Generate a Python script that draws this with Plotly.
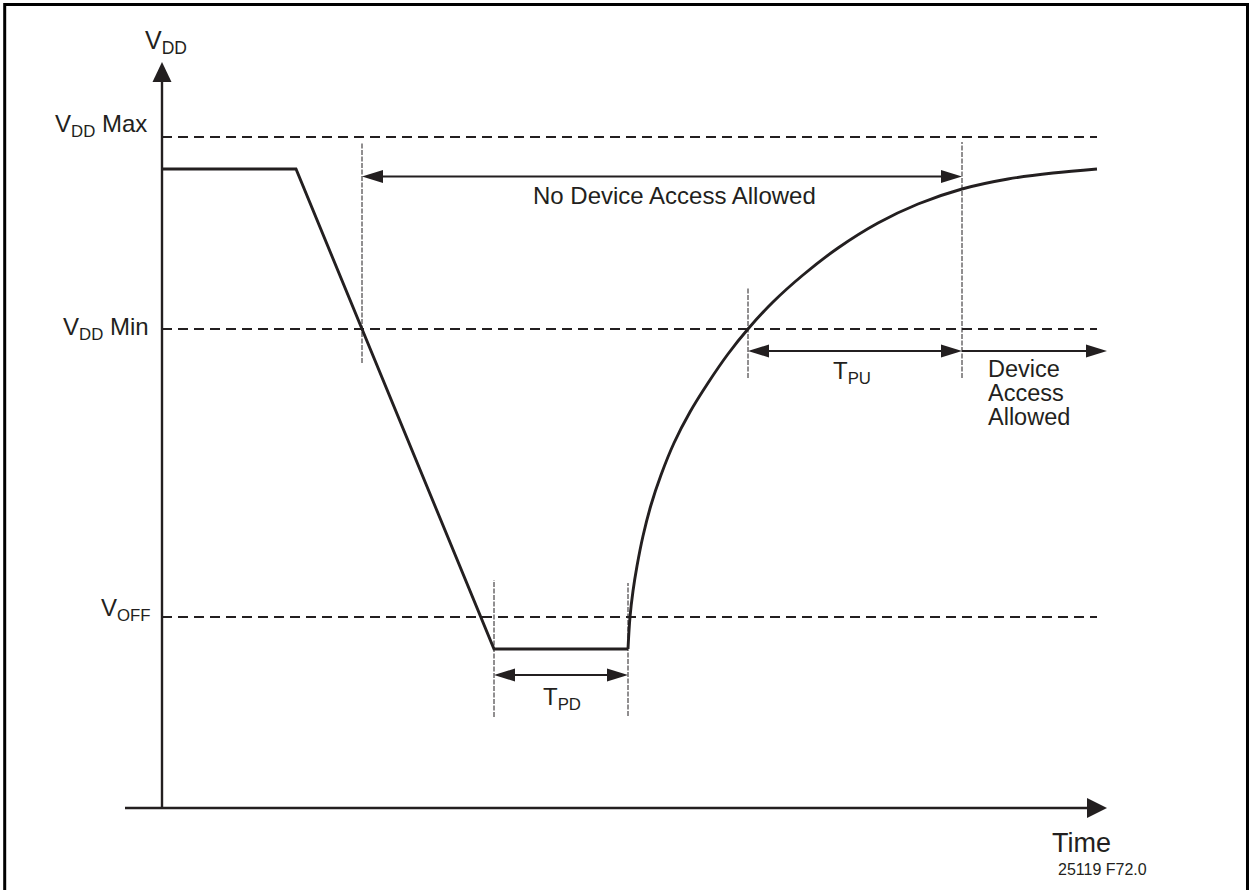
import plotly.graph_objects as go

# ---------------- data (diagram units: t = time, v = supply voltage) ----------------
V_NOM = 639          # steady supply level
V_MAX = 671          # VDD Max
V_MIN = 479          # VDD Min
V_OFF = 191          # VOFF
V_LOW = 159          # bottom of the dip

# falling part of VDD
fall_t = [0, 134, 332, 466]
fall_v = [639, 639, 159, 159]

# recovery (power-up) curve
rise_t = [466, 468, 471, 475, 481, 489, 499, 512, 528, 546, 566, 586, 611, 641, 676, 716, 756, 800, 846, 891, 935]
rise_v = [159, 191, 217, 242, 272, 303, 333, 365, 396, 425, 454, 479, 506, 533, 560, 585, 604, 619, 629, 635, 639]

# event times
T_MIN_DOWN = 200     # VDD falls through VDD Min
T_PD_START = 332     # VDD below VOFF
T_PD_END = 466       # power restored
T_MIN_UP = 586       # VDD rises through VDD Min
T_READY = 800        # end of TPU
T_LINE_END = 935     # end of reference levels
T_AXIS_END = 945     # time axis arrow tip
T_AXIS_START = -37
V_AXIS_TOP = 746     # voltage axis arrow tip

level_labels = ["V<sub>DD</sub> Max", "V<sub>DD</sub> Min", "V<sub>OFF</sub>"]
level_values = [V_MAX, V_MIN, V_OFF]
level_label_offsets = [12, 1, 7.5]
level_label_right = [-14, -12, -10]

# vertical reference markers: time, top, bottom
marker_t = [T_MIN_DOWN, T_MIN_UP, T_READY, T_PD_START, T_PD_END]
marker_top = [666, 521, 666, 228, 225]
marker_bottom = [445, 430, 430, 91, 92]

# dimension arrows: start, end, level, heads(start,end)
dim_start = [T_MIN_DOWN, T_MIN_UP, T_READY, T_PD_START]
dim_end = [T_READY, T_READY, T_AXIS_END, T_PD_END]
dim_v = [631.5, 457, 457, 133]
dim_heads = [(True, True), (True, True), (False, True), (True, True)]

INK = "#231f20"
FONT = "Liberation Sans, Arial, Helvetica, sans-serif"

fig = go.Figure()

# signal
fig.add_trace(go.Scatter(x=fall_t, y=fall_v, mode="lines",
                         line=dict(color=INK, width=2.9), hoverinfo="skip"))
fig.add_trace(go.Scatter(x=rise_t, y=rise_v, mode="lines",
                         line=dict(color=INK, width=2.9, shape="spline", smoothing=1.0),
                         hoverinfo="skip"))

shapes = []

def head(tip_t, tip_v, dt, dv, length, half):
    bt, bv = tip_t - dt * length, tip_v - dv * length
    pt, pv = -dv * half, dt * half
    return dict(type="path", xref="x", yref="y",
                path=f"M {tip_t},{tip_v} L {bt + pt},{bv + pv} L {bt - pt},{bv - pv} Z",
                fillcolor=INK, line=dict(width=0), layer="above")

# axes
shapes.append(dict(type="line", xref="x", yref="y", x0=0, x1=0, y0=0, y1=V_AXIS_TOP - 18,
                   line=dict(color=INK, width=2.4)))
shapes.append(head(0, V_AXIS_TOP, 0, 1, 20, 9.5))
shapes.append(dict(type="line", xref="x", yref="y", x0=T_AXIS_START, x1=T_AXIS_END - 18, y0=0, y1=0,
                   line=dict(color=INK, width=2.4)))
shapes.append(head(T_AXIS_END, 0, 1, 0, 20, 10))

# reference levels (dashed)
for v in level_values:
    shapes.append(dict(type="line", xref="x", yref="y", x0=0, x1=T_LINE_END, y0=v, y1=v,
                       line=dict(color=INK, width=1.8, dash="10px,6px"), layer="below"))

# vertical markers (fine dotted)
for t, top, bot in zip(marker_t, marker_top, marker_bottom):
    shapes.append(dict(type="line", xref="x", yref="y", x0=t, x1=t, y0=bot, y1=top,
                       line=dict(color=INK, width=1, dash="5px,1.5px"), layer="below"))

# dimension arrows
for s, e, v, (hs, he) in zip(dim_start, dim_end, dim_v, dim_heads):
    x0 = s + 10 if hs else s
    shapes.append(dict(type="line", xref="x", yref="y", x0=x0, x1=e - 10, y0=v, y1=v,
                       line=dict(color=INK, width=1.8)))
    if hs:
        shapes.append(head(s, v, -1, 0, 21, 6.5))
    if he:
        shapes.append(head(e, v, 1, 0, 21, 6.5))

# frame (top, left, right)
shapes.append(dict(type="path", xref="paper", yref="paper",
                   path="M 0.00376,-0.01 L 0.00376,0.99494 L 0.99720,0.99494 L 0.99720,-0.01",
                   line=dict(color="#000000", width=3)))

annotations = []

def label(text, t, v, size, xanchor="center", yanchor="middle"):
    annotations.append(dict(text=text, x=t, y=v, xref="x", yref="y", showarrow=False,
                            xanchor=xanchor, yanchor=yanchor, borderpad=0,
                            font=dict(family=FONT, size=size, color=INK)))

# level labels
for txt, v, off, r in zip(level_labels, level_values, level_label_offsets, level_label_right):
    label(txt, r, v + off, 24, xanchor="right")

label("V<sub>DD</sub>", 4, 766, 25)
label("No Device Access Allowed", 512, 612.5, 24)
label("T<sub>PU</sub>", 690, 436, 24)
label("T<sub>PD</sub>", 400, 110, 24)
for i, word in enumerate(["Device", "Access", "Allowed"]):
    label(word, 825, 439 - 24 * i, 23.5, xanchor="left")
label("Time", 919.5, -34.5, 27)
label("25119 F72.0", 940.5, -61.5, 16)

fig.update_layout(
    width=1251, height=890,
    margin=dict(l=0, r=0, t=0, b=0, pad=0),
    paper_bgcolor="white", plot_bgcolor="white",
    showlegend=False,
    xaxis=dict(range=[-162, 1089], visible=False, fixedrange=True),
    yaxis=dict(range=[-82, 808], visible=False, fixedrange=True),
    shapes=shapes,
    annotations=annotations,
)

fig.write_html("out.html", post_script="document.body.style.margin='0';",
               config={"displayModeBar": False})
